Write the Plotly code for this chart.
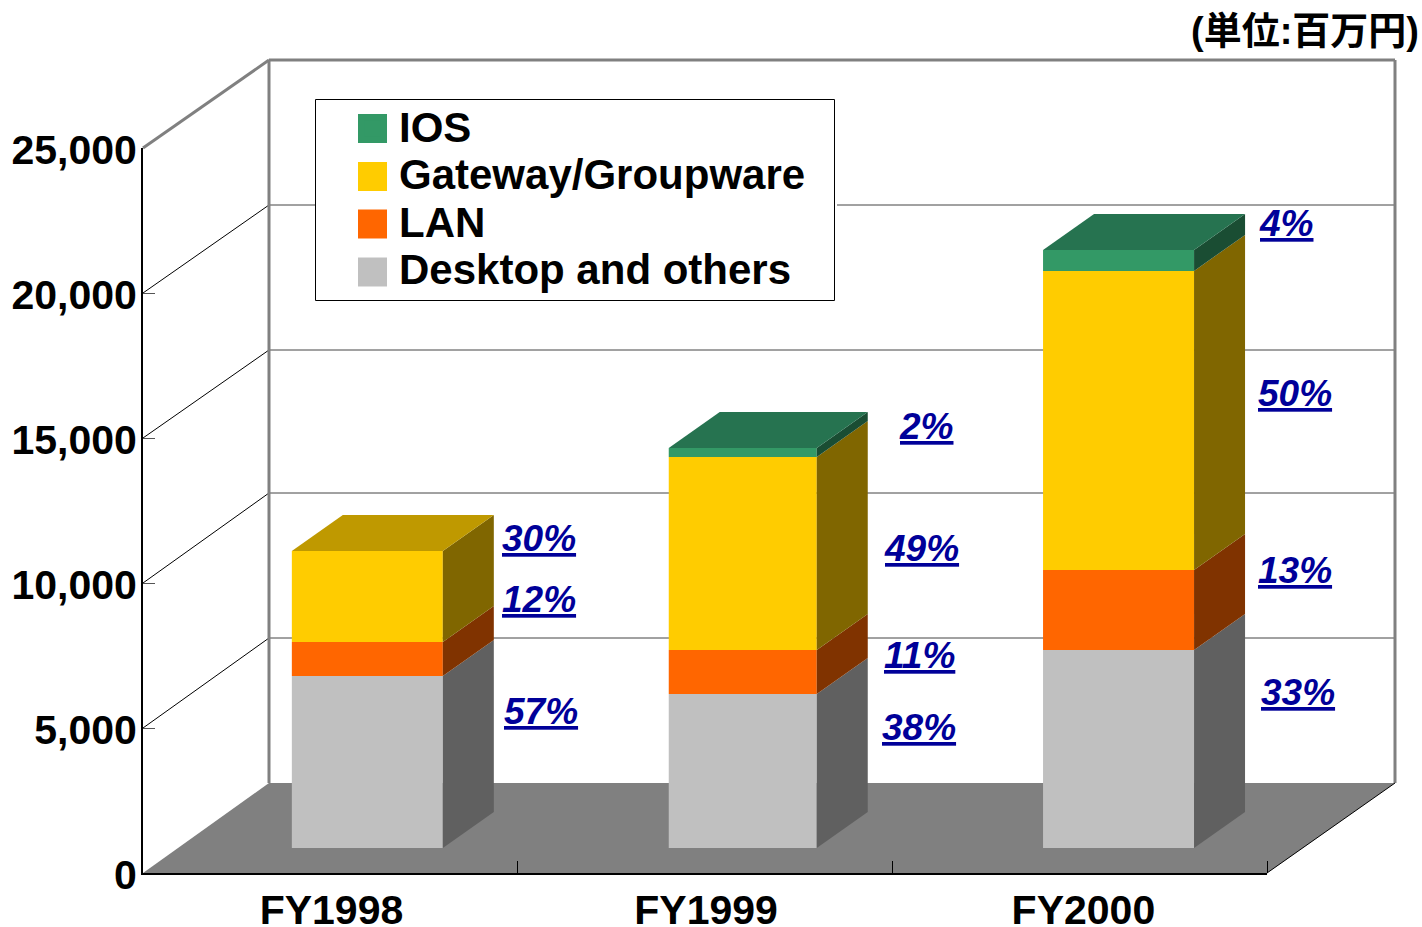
import plotly.graph_objects as go

# ---------- data ----------
categories = ["FY1998", "FY1999", "FY2000"]
desktop = [5930, 5310, 6830]
lan = [1170, 1520, 2760]
gateway = [3140, 6655, 10310]
ios = [0, 310, 724]
series_names = ["Desktop and others", "LAN", "Gateway/Groupware", "IOS"]
pct_desktop = ["57%", "38%", "33%"]
pct_lan = ["12%", "11%", "13%"]
pct_gateway = ["30%", "49%", "50%"]
pct_ios = [None, "2%", "4%"]
y_ticks = [0, 5000, 10000, 15000, 20000, 25000]
y_ticktext = ["0", "5,000", "10,000", "15,000", "20,000", "25,000"]
unit_label = "(単位:百万円)"

# ---------- style ----------
W, H = 1422, 927
L, R, T, B = 143, 1267, 148, 873
FONT = "Liberation Sans"
front_cols = ["#C0C0C0", "#FF6600", "#FFCC00", "#339966"]
side_cols = ["#606060", "#803300", "#806600", "#1A4D33"]
top_cols = ["#606060", "#803300", "#BF9900", "#267350"]
XU = (R - L) / 3           # px per category
YU = (B - T) / 25000       # px per value unit
BACK_XL, BACK_XR = 126 / XU, 128 / XU    # depth of the back wall, left/right
BACK_Y = 90 / YU
GRID_DY = [90 / YU, 90 / YU, 88 / YU, 88 / YU, 88 / YU]  # wall rise at 5k..25k
F_X, F_Y = 37 / XU, 25 / YU              # bar front offset
S_X, S_Y = 51 / XU, 36 / YU              # bar depth
BAR_POS = [0.5, 1.502, 2.505]
BAR_W = [0.403, 0.395, 0.403]
LABEL_POS = [0.503, 1.503, 2.51]


def xp(x):
    return x / 3


def yp(y):
    return y / 25000


def pxx(px):
    return (px - L) / (R - L)


def pxy(py):
    return (B - py) / (B - T)


shapes = []


def line(x0, y0, x1, y1, color, width):
    shapes.append(dict(type="line", layer="below", xref="paper", yref="paper",
                       x0=xp(x0), y0=yp(y0), x1=xp(x1), y1=yp(y1),
                       line=dict(color=color, width=width)))


# floor
shapes.append(dict(type="path", layer="below", xref="paper", yref="paper",
                   path=f"M{xp(0)},{yp(0)} L{xp(3)},{yp(0)} L{xp(3+BACK_XR)},{yp(BACK_Y)} "
                        f"L{xp(BACK_XL)},{yp(BACK_Y)} Z",
                   fillcolor="#808080", line=dict(width=0)))
# gridlines on side + back walls
for v, dy in zip(y_ticks[1:5], GRID_DY):
    line(0, v, BACK_XL, v + dy, "#000000", 1)
    line(BACK_XL, v + dy, 3 + BACK_XR, v + dy, "#444444", 1)
# wall outline
top = 25000
top_dy = GRID_DY[4]
line(0, top, BACK_XL, top + top_dy, "#808080", 3)
line(BACK_XL, top + top_dy, 3 + BACK_XR, top + top_dy, "#808080", 3)
line(BACK_XL, BACK_Y, BACK_XL, top + top_dy, "#808080", 3)
line(3 + BACK_XR, BACK_Y, 3 + BACK_XR, top + top_dy, "#808080", 3)
line(3, 0, 3 + BACK_XR, BACK_Y, "#000000", 1)

# legend box and swatches
shapes.append(dict(type="rect", layer="below", xref="paper", yref="paper",
                   x0=pxx(315.5), x1=pxx(834.5), y0=pxy(300.5), y1=pxy(99.5),
                   fillcolor="white", line=dict(color="black", width=1)))
# white gap to the right of the legend box
shapes.append(dict(type="rect", layer="below", xref="paper", yref="paper",
                   x0=pxx(835), x1=pxx(837), y0=pxy(208), y1=pxy(203),
                   fillcolor="white", line=dict(width=0)))
for name_col, cy in zip(reversed(front_cols), [128.5, 176.5, 224, 272]):
    shapes.append(dict(type="rect", layer="below", xref="paper", yref="paper",
                       x0=pxx(358), x1=pxx(387), y0=pxy(cy + 14.5), y1=pxy(cy - 14.5),
                       fillcolor=name_col, line=dict(width=0)))

fig = go.Figure()
stack = [desktop, lan, gateway, ios]

# legend entries
for s in [3, 2, 1, 0]:
    fig.add_trace(go.Scatter(
        x=[None], y=[None], mode="markers",
        name=f'<span style="font-size:42px">{series_names[s]}</span>',
        marker=dict(symbol="square", size=16, color=front_cols[s]),
        hoverinfo="skip"))

for s, vals in enumerate(stack):
    bases = [sum(stack[k][i] for k in range(s)) for i in range(len(categories))]
    # front faces
    fig.add_trace(go.Bar(
        x=[c + F_X for c in BAR_POS], y=vals,
        base=[b + F_Y for b in bases], width=BAR_W,
        marker=dict(color=front_cols[s], line=dict(width=0)),
        showlegend=False, cliponaxis=False, hoverinfo="skip"))
    # side + top faces
    for i, c in enumerate(BAR_POS):
        if vals[i] == 0:
            continue
        x1 = c + F_X + BAR_W[i] / 2
        x0 = c + F_X - BAR_W[i] / 2
        y0 = bases[i] + F_Y
        y1 = y0 + vals[i]
        fig.add_trace(go.Scatter(
            x=[x1, x1 + S_X, x1 + S_X, x1, x1], y=[y0, y0 + S_Y, y1 + S_Y, y1, y0],
            mode="lines", fill="toself", fillcolor=side_cols[s], line=dict(width=0),
            showlegend=False, cliponaxis=False, hoverinfo="skip"))
        is_top = all(stack[k][i] == 0 for k in range(s + 1, len(stack)))
        if is_top:
            fig.add_trace(go.Scatter(
                x=[x0, x1, x1 + S_X, x0 + S_X, x0], y=[y1, y1, y1 + S_Y, y1 + S_Y, y1],
                mode="lines", fill="toself", fillcolor=top_cols[s], line=dict(width=0),
                showlegend=False, cliponaxis=False, hoverinfo="skip"))

# percentage labels
pct_pos = {
    "d": [(541, 711), (919, 727), (1298, 692)],
    "l": [(539, 599), (919, 655), (1295, 570)],
    "g": [(539, 538), (921, 548), (1295, 393)],
    "i": [None, (926, 426), (1286, 223)],
}
annotations = []
for lab, pos in [(pct_desktop, pct_pos["d"]), (pct_lan, pct_pos["l"]),
                 (pct_gateway, pct_pos["g"]), (pct_ios, pct_pos["i"])]:
    for t, p in zip(lab, pos):
        if t is None:
            continue
        annotations.append(dict(
            text=f"<u>{t}</u>", xref="paper", yref="paper", x=pxx(p[0]), y=pxy(p[1]),
            xanchor="center", yanchor="middle", showarrow=False,
            font=dict(family=FONT, size=37, color="#000099", weight="bold", style="italic")))
annotations.append(dict(
    text=unit_label, xref="paper", yref="paper", x=pxx(1421), y=pxy(31),
    xanchor="right", yanchor="middle", showarrow=False,
    font=dict(family=f'{FONT}, "Noto Sans CJK JP"', size=38, color="black", weight="bold")))

tick_font = dict(family=FONT, size=41, color="black", weight="bold")
fig.update_layout(
    width=W, height=H, autosize=False,
    margin=dict(l=L, r=W - R, t=T, b=H - B, pad=0, autoexpand=False),
    paper_bgcolor="white", plot_bgcolor="rgba(0,0,0,0)",
    barmode="overlay", shapes=shapes, annotations=annotations,
    showlegend=True,
    legend=dict(x=pxx(346), y=pxy(99.5), xanchor="left", yanchor="top",
                itemwidth=43, bgcolor="rgba(0,0,0,0)", borderwidth=0,
                font=dict(family=FONT, size=34.3, color="black", weight="bold"),
                itemclick=False, itemdoubleclick=False),
    xaxis=dict(range=[0, 3], tickmode="array", tickvals=LABEL_POS, ticktext=categories,
               ticks="", showgrid=False, zeroline=False, showline=True,
               linecolor="black", linewidth=2, tickfont=tick_font, ticklabelstandoff=0,
               minor=dict(tickmode="array", tickvals=[1, 2, 3], ticks="inside", ticklen=12,
                          tickcolor="black", tickwidth=1, showgrid=False)),
    yaxis=dict(range=[0, 25000], tickmode="array", tickvals=y_ticks, ticktext=y_ticktext,
               ticks="inside", ticklen=12, tickcolor="#555555", tickwidth=1, showgrid=False,
               zeroline=False, showline=True, linecolor="black", linewidth=2,
               tickfont=tick_font, ticklabelstandoff=-4, ticklabelshift=2),
)

fig.write_html("out.html", post_script="document.body.style.margin='0';",
               config={"displayModeBar": False})
